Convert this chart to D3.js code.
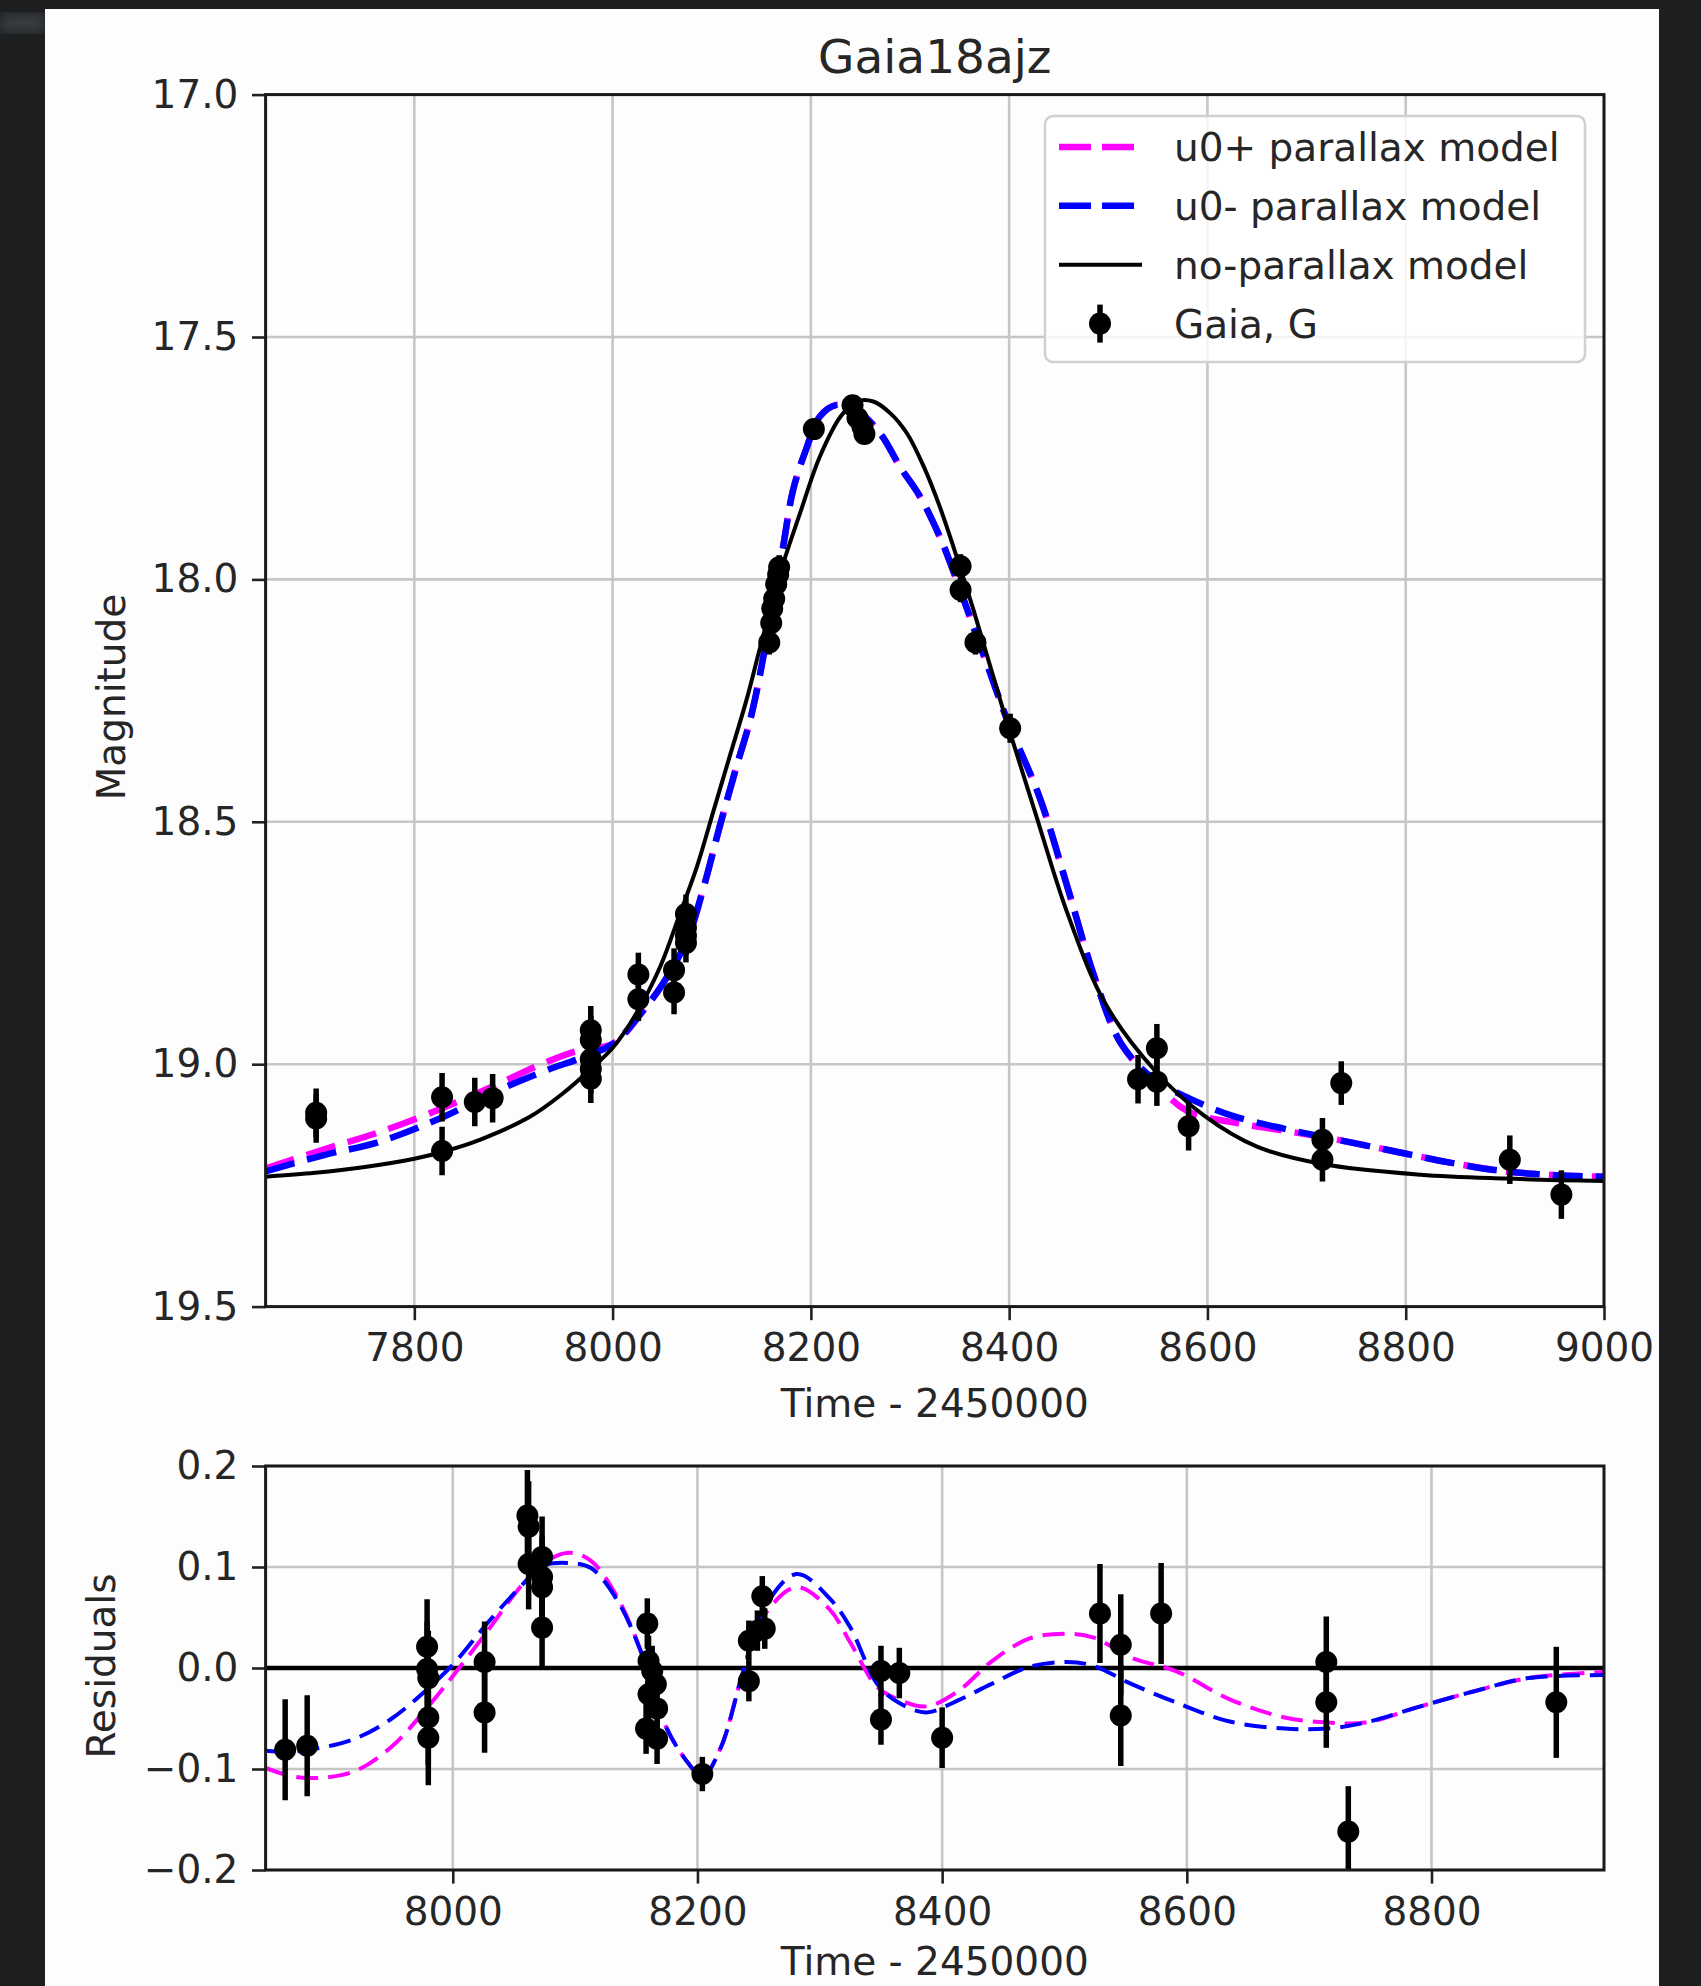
<!DOCTYPE html>
<html>
<head>
<meta charset="utf-8">
<script src="https://cdn.jsdelivr.net/npm/d3@7"></script>
<style>
	body { margin: 0; background: #1e1f21; }
	svg { display: block; font-family: "DejaVu Sans", sans-serif; }
</style>
</head>
<body>
<svg id="chart" width="1701" height="1986"></svg>
<script>
//-----------------------------------------------------data START
//Gaia G photometry (time - 2450000, magnitude, error)
var gaiaTime = [7701, 7701, 7828, 7828, 7861, 7879, 7978, 7978, 7978, 7978, 7978, 8026, 8026, 8062, 8062,
	8074, 8074, 8074, 8074, 8158, 8160, 8161, 8163, 8165, 8167, 8168, 8203, 8242, 8247, 8252, 8254,
	8351, 8351, 8366, 8401, 8530, 8549, 8549, 8581, 8716, 8716, 8735, 8905, 8957];
var gaiaMag = [19.1, 19.112, 19.068, 19.179, 19.078, 19.07, 18.93, 18.95, 18.99, 19.01, 19.03, 18.815, 18.866, 18.806, 18.852,
	18.69, 18.718, 18.735, 18.75, 18.13, 18.09, 18.06, 18.04, 18.01, 17.99, 17.975, 17.69, 17.641, 17.667, 17.685, 17.70,
	17.973, 18.022, 18.13, 18.307, 19.031, 18.967, 19.036, 19.128, 19.156, 19.197, 19.039, 19.197, 19.269];
var gaiaErr = [0.05, 0.05, 0.05, 0.05, 0.05, 0.05, 0.05, 0.05, 0.05, 0.05, 0.05, 0.045, 0.045, 0.045, 0.045,
	0.04, 0.04, 0.04, 0.04, 0.025, 0.025, 0.025, 0.025, 0.025, 0.025, 0.025, 0.015, 0.015, 0.015, 0.015, 0.015,
	0.025, 0.025, 0.025, 0.03, 0.05, 0.05, 0.05, 0.05, 0.045, 0.045, 0.045, 0.05, 0.05];

//no-parallax model
var noParTime = [7650, 7700, 7750, 7800, 7830, 7866, 7917, 7950, 7977, 8001, 8024, 8048, 8068, 8085, 8102, 8119,
	8135, 8149, 8169, 8189, 8209, 8230, 8246, 8263, 8280, 8297, 8314, 8330, 8347, 8364, 8381, 8398,
	8426, 8459, 8497, 8547, 8596, 8650, 8716, 8815, 8900, 9000];
var noParMag = [19.232, 19.224, 19.212, 19.195, 19.18, 19.156, 19.108, 19.06, 19.012, 18.964, 18.895, 18.799, 18.689, 18.593, 18.476, 18.359,
	18.249, 18.139, 17.987, 17.864, 17.747, 17.664, 17.633, 17.633, 17.657, 17.699, 17.768, 17.85, 17.953, 18.063, 18.18, 18.297,
	18.479, 18.69, 18.875, 19.013, 19.105, 19.17, 19.206, 19.228, 19.236, 19.241];

//parallax models, u0+ and u0-
var parTime = [7650, 7710, 7765, 7828, 7880, 7934, 7967, 8001, 8034, 8051, 8075, 8092, 8108, 8125, 8140, 8158,
	8172, 8182, 8196, 8209, 8226, 8246, 8270, 8290, 8310, 8330, 8347, 8364, 8381, 8398, 8431, 8459,
	8486, 8513, 8546, 8579, 8623, 8677, 8732, 8787, 8842, 8896, 8951, 9000];
var u0pMag = [19.215, 19.175, 19.14, 19.091, 19.045, 18.995, 18.971, 18.957, 18.881, 18.833, 18.744, 18.634, 18.51, 18.386, 18.28, 18.094,
	17.933, 17.816, 17.727, 17.664, 17.64, 17.651, 17.699, 17.768, 17.829, 17.912, 18.001, 18.098, 18.194, 18.29, 18.451, 18.636,
	18.82, 18.958, 19.036, 19.096, 19.119, 19.137, 19.156, 19.179, 19.202, 19.22, 19.229, 19.232];
var u0mMag = [19.221, 19.187, 19.16, 19.11, 19.058, 19.012, 18.988, 18.957, 18.881, 18.833, 18.744, 18.634, 18.51, 18.386, 18.28, 18.094,
	17.933, 17.816, 17.727, 17.664, 17.64, 17.651, 17.699, 17.768, 17.829, 17.912, 18.001, 18.098, 18.194, 18.29, 18.451, 18.636,
	18.82, 18.958, 19.031, 19.068, 19.105, 19.133, 19.156, 19.179, 19.202, 19.22, 19.229, 19.232];

//residuals of the data
var resTime = [7863, 7881, 7979, 7979, 7980, 7980, 7980, 8026, 8026, 8061, 8062, 8062, 8073, 8073, 8073, 8073,
	8159, 8160, 8163, 8166, 8160, 8167, 8158, 8167, 8204, 8242, 8242, 8249, 8255, 8253,
	8350, 8350, 8365, 8400, 8529, 8546, 8546, 8579, 8714, 8714, 8732, 8902];
var resVal = [-0.081, -0.077, 0.021, -0.001, -0.01, -0.049, -0.069, 0.006, -0.044, 0.151, 0.14, 0.103, 0.11, 0.09, 0.08, 0.04,
	0.044, 0.007, -0.003, -0.016, -0.026, -0.04, -0.06, -0.07, -0.105, -0.013, 0.027, 0.037, 0.039, 0.071,
	-0.003, -0.051, -0.005, -0.069, 0.054, 0.023, -0.047, 0.054, 0.006, -0.034, -0.162, -0.034];
var resErr = [0.05, 0.05, 0.047, 0.047, 0.047, 0.047, 0.047, 0.04, 0.04, 0.045, 0.045, 0.045, 0.04, 0.04, 0.04, 0.04,
	0.025, 0.025, 0.025, 0.025, 0.025, 0.025, 0.025, 0.025, 0.017, 0.02, 0.02, 0.02, 0.02, 0.02,
	0.025, 0.025, 0.025, 0.03, 0.049, 0.05, 0.05, 0.05, 0.045, 0.045, 0.045, 0.055];

//residual models (parallax minus no-parallax)
var resModelTime = [7847, 7865, 7882, 7918, 7949, 7980, 8002, 8028, 8055, 8073, 8095, 8113, 8135, 8157, 8175, 8193,
	8204, 8219, 8237, 8254, 8281, 8308, 8325, 8347, 8364, 8387, 8413, 8440, 8471, 8502, 8524, 8555,
	8591, 8635, 8680, 8715, 8746, 8791, 8835, 8879, 8941];
var resU0p = [-0.099, -0.106, -0.109, -0.103, -0.079, -0.038, -0.005, 0.036, 0.08, 0.103, 0.114, 0.106, 0.069, 0.006, -0.06, -0.095,
	-0.108, -0.079, -0.005, 0.051, 0.08, 0.058, 0.025, -0.019, -0.031, -0.038, -0.023, 0.006, 0.029, 0.034, 0.03, 0.01,
	-0.003, -0.031, -0.049, -0.054, -0.054, -0.038, -0.023, -0.01, -0.004];
var resU0m = [-0.082, -0.083, -0.081, -0.071, -0.051, -0.02, 0.006, 0.044, 0.08, 0.101, 0.104, 0.099, 0.066, 0.006, -0.06, -0.095,
	-0.108, -0.079, -0.005, 0.058, 0.093, 0.069, 0.04, -0.016, -0.034, -0.044, -0.032, -0.016, 0.001, 0.006, 0.002, -0.016,
	-0.034, -0.053, -0.06, -0.06, -0.054, -0.038, -0.023, -0.01, -0.007];

//ticks and labels
var timeTicks = [7800, 8000, 8200, 8400, 8600, 8800, 9000];
var magTicks = [17.0, 17.5, 18.0, 18.5, 19.0, 19.5];
var resTimeTicks = [8000, 8200, 8400, 8600, 8800];
var resTicks = [-0.2, -0.1, 0.0, 0.1, 0.2];
var legendLabels = ['u0+ parallax model', 'u0- parallax model', 'no-parallax model', 'Gaia, G'];
//-----------------------------------------------------data END

//common vars
var fig = {
	'left': 265.6,
	'right': 1604,
	'font': 39,
	'text': '#262626'
};
var upper = { 'top': 94.6, 'bottom': 1306.6 };
var lower = { 'top': 1466, 'bottom': 1870 };

var svg = d3.select('#chart');

//dark surround and white figure
var defs = svg.append('defs');
defs.append('filter').attr('id', 'soft')
	.append('feGaussianBlur').attr('stdDeviation', 6);
svg.append('rect').attr('width', 1701).attr('height', 1986).style('fill', '#1e1f21');
svg.append('rect').attr('x', 0).attr('y', 14).attr('width', 45).attr('height', 18)
	.style('fill', '#3a3c3f').attr('filter', 'url(#soft)');
svg.append('rect').attr('x', 45).attr('y', 9).attr('width', 1614).attr('height', 1977).style('fill', '#fdfdfd');

//scales
var x1 = d3.scaleLinear().domain([7650, 9000]).range([fig.left, fig.right]);
var y1 = d3.scaleLinear().domain([17, 19.5]).range([upper.top, upper.bottom]);
var x2 = d3.scaleLinear().domain([7847, 8941]).range([fig.left, fig.right]);
var y2 = d3.scaleLinear().domain([-0.2, 0.2]).range([lower.bottom, lower.top]);

defs.append('clipPath').attr('id', 'clip-upper').append('rect')
	.attr('x', fig.left).attr('y', upper.top)
	.attr('width', fig.right - fig.left).attr('height', upper.bottom - upper.top);
defs.append('clipPath').attr('id', 'clip-lower').append('rect')
	.attr('x', fig.left).attr('y', lower.top)
	.attr('width', fig.right - fig.left).attr('height', lower.bottom - lower.top);

function fmt(d) {
	return d3.format('.1f')(d).replace('-', '\u2212');
}

//-----------------------------------------------------axes START
function drawAxes(x, y, xTicks, yTicks, box) {
	var g = svg.append('g');

	//grid
	g.selectAll('.vgrid').data(xTicks).enter().append('line')
		.attr('x1', function(d) { return x(d); }).attr('x2', function(d) { return x(d); })
		.attr('y1', box.top).attr('y2', box.bottom)
		.style('stroke', '#c6c6c6').style('stroke-width', 2.6);
	g.selectAll('.hgrid').data(yTicks).enter().append('line')
		.attr('x1', fig.left).attr('x2', fig.right)
		.attr('y1', function(d) { return y(d); }).attr('y2', function(d) { return y(d); })
		.style('stroke', '#c6c6c6').style('stroke-width', 2.6);

	//ticks
	var xa = svg.append('g').attr('transform', 'translate(0,' + box.bottom + ')')
		.call(d3.axisBottom(x).tickValues(xTicks).tickSize(13.6).tickPadding(13.6).tickFormat(d3.format('d')));
	var ya = svg.append('g').attr('transform', 'translate(' + fig.left + ',0)')
		.call(d3.axisLeft(y).tickValues(yTicks).tickSize(13.6).tickPadding(13.6).tickFormat(fmt));
	[xa, ya].forEach(function(a) {
		a.select('.domain').remove();
		a.selectAll('line').style('stroke', '#222').style('stroke-width', 2.6);
		a.selectAll('text').style('font-size', fig.font + 'px').style('fill', fig.text)
			.style('font-family', '"DejaVu Sans", sans-serif');
	});
	return g;
}

function drawFrame(box) {
	svg.append('rect')
		.attr('x', fig.left).attr('y', box.top)
		.attr('width', fig.right - fig.left).attr('height', box.bottom - box.top)
		.style('fill', 'none').style('stroke', '#1a1a1a').style('stroke-width', 3);
}

function drawPoints(g, xs, ys, es, x, y) {
	var pts = xs.map(function(d, i) { return { 't': d, 'v': ys[i], 'e': es[i] }; });
	g.selectAll('.err').data(pts).enter().append('line')
		.attr('x1', function(d) { return x(d.t); }).attr('x2', function(d) { return x(d.t); })
		.attr('y1', function(d) { return y(d.v - d.e); }).attr('y2', function(d) { return y(d.v + d.e); })
		.style('stroke', '#000').style('stroke-width', 5.5);
	g.selectAll('.dot').data(pts).enter().append('circle')
		.attr('cx', function(d) { return x(d.t); })
		.attr('cy', function(d) { return y(d.v); })
		.attr('r', 11)
		.style('fill', '#000');
}

function drawCurve(g, xs, ys, x, y, color, width, dash) {
	var line = d3.line()
		.x(function(d) { return x(d[0]); })
		.y(function(d) { return y(d[1]); })
		.curve(d3.curveCatmullRom.alpha(0.5));
	g.append('path')
		.attr('d', line(xs.map(function(d, i) { return [d, ys[i]]; })))
		.style('fill', 'none')
		.style('stroke', color)
		.style('stroke-width', width)
		.style('stroke-dasharray', dash);
}
//-----------------------------------------------------axes END

//-----------------------------------------------------light curve START
drawAxes(x1, y1, timeTicks, magTicks, upper);
var main = svg.append('g').attr('clip-path', 'url(#clip-upper)');
drawCurve(main, parTime, u0pMag, x1, y1, '#ff00ff', 6.5, '30 13');
drawCurve(main, parTime, u0mMag, x1, y1, '#0000ff', 6.5, '30 13');
drawCurve(main, noParTime, noParMag, x1, y1, '#000', 4, null);
drawPoints(main, gaiaTime, gaiaMag, gaiaErr, x1, y1);
drawFrame(upper);

//title and labels
svg.append('text')
	.attr('x', (fig.left + fig.right) / 2).attr('y', 73)
	.attr('text-anchor', 'middle')
	.style('font-size', '47px').style('fill', fig.text)
	.text('Gaia18ajz');
svg.append('text')
	.attr('transform', 'translate(111,697) rotate(-90)')
	.attr('text-anchor', 'middle').attr('dy', '0.35em')
	.style('font-size', fig.font + 'px').style('fill', fig.text)
	.text('Magnitude');
svg.append('text')
	.attr('x', (fig.left + fig.right) / 2).attr('y', 1417)
	.attr('text-anchor', 'middle')
	.style('font-size', fig.font + 'px').style('fill', fig.text)
	.text('Time - 2450000');

//legend
var legend = svg.append('g');
legend.append('rect')
	.attr('x', 1045).attr('y', 116).attr('width', 540).attr('height', 246)
	.attr('rx', 8)
	.style('fill', '#fff').style('fill-opacity', 0.8)
	.style('stroke', '#d0d0d0').style('stroke-width', 2.5);
var legendY = d3.scalePoint().domain(legendLabels).range([147, 323.6]);
var legendStyle = [
	{ 'color': '#ff00ff', 'width': 6.5, 'dash': '32 11' },
	{ 'color': '#0000ff', 'width': 6.5, 'dash': '32 11' },
	{ 'color': '#000', 'width': 4, 'dash': null }
];
legendLabels.forEach(function(label, i) {
	var yy = legendY(label);
	if (i < 3) {
		legend.append('line')
			.attr('x1', 1059).attr('x2', 1142).attr('y1', yy).attr('y2', yy)
			.style('stroke', legendStyle[i].color)
			.style('stroke-width', legendStyle[i].width)
			.style('stroke-dasharray', legendStyle[i].dash);
	} else {
		legend.append('line')
			.attr('x1', 1100).attr('x2', 1100).attr('y1', yy - 19).attr('y2', yy + 19)
			.style('stroke', '#000').style('stroke-width', 5.5);
		legend.append('circle').attr('cx', 1100).attr('cy', yy).attr('r', 11).style('fill', '#000');
	}
	legend.append('text')
		.attr('x', 1174).attr('y', yy).attr('dy', '0.36em')
		.style('font-size', fig.font + 'px').style('fill', fig.text)
		.text(label);
});
//-----------------------------------------------------light curve END

//-----------------------------------------------------residuals START
drawAxes(x2, y2, resTimeTicks, resTicks, lower);
var res = svg.append('g').attr('clip-path', 'url(#clip-lower)');
res.append('line')
	.attr('x1', fig.left).attr('x2', fig.right)
	.attr('y1', y2(0)).attr('y2', y2(0))
	.style('stroke', '#000').style('stroke-width', 4.5);
drawCurve(res, resModelTime, resU0p, x2, y2, '#ff00ff', 4, '22 10');
drawCurve(res, resModelTime, resU0m, x2, y2, '#0000ff', 4, '22 10');
drawPoints(res, resTime, resVal, resErr, x2, y2);
drawFrame(lower);

svg.append('text')
	.attr('transform', 'translate(101,1666) rotate(-90)')
	.attr('text-anchor', 'middle').attr('dy', '0.35em')
	.style('font-size', fig.font + 'px').style('fill', fig.text)
	.text('Residuals');
//bottom label sits right at the lower edge of the figure
svg.append('text')
	.attr('x', (fig.left + fig.right) / 2).attr('y', 1975)
	.attr('text-anchor', 'middle')
	.style('font-size', fig.font + 'px').style('fill', fig.text)
	.text('Time - 2450000');
//-----------------------------------------------------residuals END
</script>
</body>
</html>
